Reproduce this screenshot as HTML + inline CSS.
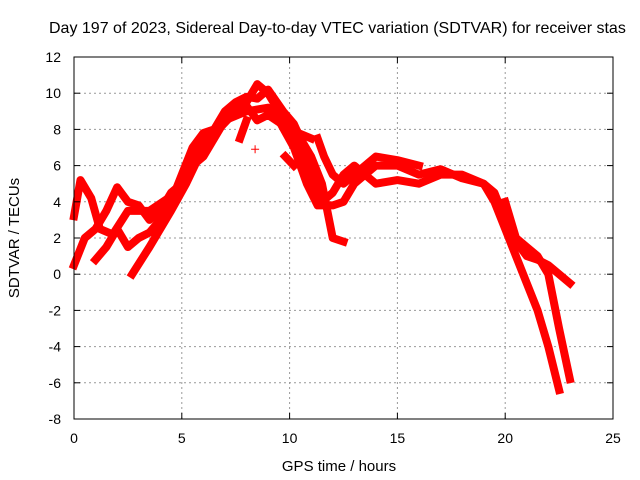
<!DOCTYPE html>
<html><head><meta charset="utf-8">
<style>
body{margin:0;background:#fff;}
svg{display:block;font-family:"Liberation Sans",Arial,sans-serif;}
</style></head>
<body>
<svg id="chart" width="640" height="480" viewBox="0 0 640 480">
<rect width="640" height="480" fill="#fff"/>
<text x="49" y="33" font-size="16" fill="#000">Day 197 of 2023, Sidereal Day-to-day VTEC variation (SDTVAR) for receiver stas</text>
<g id="grid"></g>
<g id="marks"></g>
<rect x="74" y="57" width="539" height="362" fill="none" stroke="#000" stroke-width="1"/>
<g id="axes"></g>
<text x="339" y="471" font-size="15" text-anchor="middle">GPS time / hours</text>
<text transform="translate(19,238) rotate(-90)" font-size="15" text-anchor="middle">SDTVAR / TECUs</text>
</svg>
<script>
const xTicks=[0,5,10,15,20,25];
const yTicks=[-8,-6,-4,-2,0,2,4,6,8,10,12];
const track1=[[0,3.2],[0.3,5.2],[0.8,4.2],[1.2,2.5],[1.8,2.2],[2.5,3.5],[3.5,3.5],[4.5,4.3],[5,5],[5.5,6.5],[6,7.5],[7,8.5],[8,9],[9,9.2],[9.5,8.5],[10.2,7],[10.8,5],[11.3,3.8],[12,3.8],[12.5,4],[13,5],[14,6],[15,6],[16,5.5],[17,5.8],[18,5.3],[19,5],[19.5,4.5],[20,3],[20.5,1.8],[21,1],[21.5,0.8],[22,0.5],[22.5,0],[23,-0.5]];
const track2=[[0,0.5],[0.5,2],[1,2.5],[1.5,3.5],[2,4.8],[2.5,4],[3,3.8],[3.5,3],[4,3.5],[4.5,4.5],[5,5],[5.5,6],[6,6.5],[7,8.5],[8,9.5],[8.5,10.5],[9,10],[9.5,9],[10,8],[11,7.5]];
const track3=[[2.7,0],[3.5,1.5],[4.5,3.5],[5.2,5],[6,7],[6.7,8],[7.5,9],[8,9.3],[8.5,8.5],[9,8.8],[10,8],[10.5,7],[11,5.5],[11.5,4],[12,4.5],[12.5,5.5],[13,6],[13.5,5.5],[14,5],[15,5.2],[16,5],[17,5.5],[18,5.5],[19,5],[19.5,4],[20,2.5],[20.5,1],[21,-0.5],[21.5,-2],[22,-4],[22.5,-6.4]];
const track4=[[1,0.8],[1.5,1.5],[2,2.5],[2.5,1.5],[3,2],[3.5,2.3],[4,3],[4.5,4],[5,5.5],[5.5,7],[6,7.8],[6.5,8],[7,9],[7.5,9.5],[8,9.8],[8.5,9.7],[9,10.2],[9.7,9],[10.2,8.3],[10.5,7.5],[11,6.5],[11.5,5],[12,2],[12.5,1.8]];
const track5=[[20,4],[20.5,2],[21,1.5],[21.5,1],[22,0],[22.5,-3],[23,-5.8]];
const track6=[[11.3,7.5],[11.6,6.5],[12,5.5],[12.5,5],[13,5.5],[14,6.5],[15,6.3],[16,6]];
const track7=[[7.7,7.5],[8,8.5]];
const track8=[[9.8,6.5],[10.2,6]];
const singles=[[8.4,6.9]];
const tracks=[track1,track2,track3,track4,track5,track6,track7,track8];

const X0=74,X1=613,Y0=419,Y1=57,xmin=0,xmax=25,ymin=-8,ymax=12;
function sx(v){return X0+(v-xmin)/(xmax-xmin)*(X1-X0);}
function sy(v){return Y0-(v-ymin)/(ymax-ymin)*(Y0-Y1);}
const NS="http://www.w3.org/2000/svg";
const grid=document.getElementById('grid'),axes=document.getElementById('axes'),marks=document.getElementById('marks');
function mk(t,a,p){const e=document.createElementNS(NS,t);for(const k in a)e.setAttribute(k,a[k]);p.appendChild(e);return e;}
xTicks.forEach(v=>{
  const x=sx(v);
  if(v>xmin&&v<xmax){const g=mk('line',{x1:x,x2:x,y1:Y0,y2:Y1,stroke:'#999','stroke-dasharray':'2,3'},grid);
  
  }
  mk('line',{x1:x,x2:x,y1:Y0,y2:Y0-6,stroke:'#000'},axes);
  mk('line',{x1:x,x2:x,y1:Y1,y2:Y1+6,stroke:'#000'},axes);
  const t=mk('text',{x:x,y:443,'font-size':14,'text-anchor':'middle'},axes);t.textContent=v;
  
  
});
yTicks.forEach(v=>{
  const y=sy(v);
  if(v>ymin&&v<ymax){const g=mk('line',{x1:X0,x2:X1,y1:y,y2:y,stroke:'#999','stroke-dasharray':'2,3'},grid);
  
  }
  mk('line',{x1:X0,x2:X0+6,y1:y,y2:y,stroke:'#000'},axes);
  mk('line',{x1:X1,x2:X1-6,y1:y,y2:y,stroke:'#000'},axes);
  const t=mk('text',{x:61,y:y+5,'font-size':14,'text-anchor':'end'},axes);t.textContent=v;
  
  
});
tracks.forEach((tr,i)=>{
  const p=mk('polyline',{points:tr.map(d=>sx(d[0])+','+sy(d[1])).join(' '),fill:'none',stroke:'#f00','stroke-width':8,'stroke-linejoin':'round','stroke-linecap':'square'},marks);
  
  
});
singles.forEach(d=>{
  const x=sx(d[0]),y=sy(d[1]);
  const p=mk('path',{d:`M${x-4},${y}H${x+4}M${x},${y-4}V${y+4}`,stroke:'#f00','stroke-width':1},marks);
  
  
});
</script>
</body></html>
